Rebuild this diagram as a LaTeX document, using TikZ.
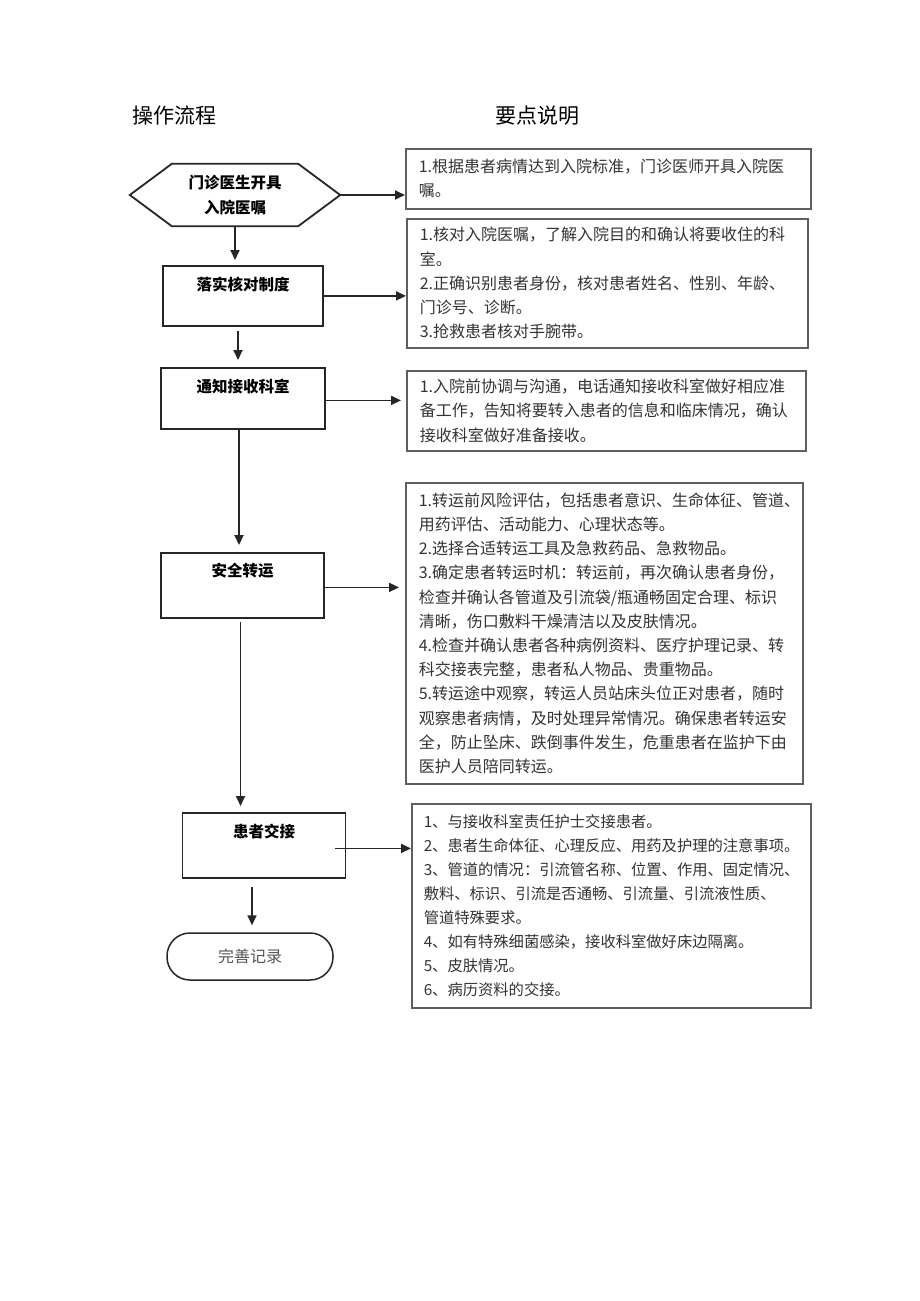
\documentclass[tikz,border=0pt]{standalone}
\usepackage{fontspec}
\setmainfont{Noto Sans CJK SC}
\usepackage{tikz}
\usetikzlibrary{arrows.meta,positioning}
\definecolor{boxdark}{HTML}{262626}
\definecolor{notegray}{HTML}{5E5E5E}
\definecolor{notetext}{HTML}{333333}
\definecolor{endgray}{HTML}{555555}

\begin{document}
\begin{tikzpicture}[x=1pt, y=-1pt,
  title/.style={font=\fontsize{21pt}{25pt}\selectfont,anchor=west,inner sep=0pt},
  stepbox/.style={draw=boxdark,line width=1.8pt,inner sep=0pt,minimum width=163pt,text height=25pt,text depth=36pt,anchor=north,font=\bfseries\fontsize{15.5pt}{18pt}\selectfont},
  note/.style={draw=notegray,line width=1.5pt,anchor=north west,align=left,inner xsep=13pt,inner ysep=0pt,text=notetext,font=\fontsize{16pt}{24.2pt}\selectfont},
  arr/.style={-{Triangle[length=10pt,width=9pt]},line width=1.8pt,boxdark}
]
\fill[white] (0,0) rectangle (920,1301);
\useasboundingbox (0,0) rectangle (920,1301);

\node[title] (t1) at (132,116) {操作流程};
\node[title] (t2) at (495,116) {要点说明};

% flow on the left
\node[inner sep=0pt,minimum width=210pt,minimum height=62pt,align=center,font=\bfseries\fontsize{15.5pt}{25pt}\selectfont] (hex) at (235,195) {门诊医生开具\\入院医嘱};
\draw[boxdark,line width=1.8pt] (hex.west) -- ([xshift=42pt]hex.north west) -- ([xshift=-42pt]hex.north east) -- (hex.east) -- ([xshift=-42pt]hex.south east) -- ([xshift=42pt]hex.south west) -- cycle;
\node[stepbox,minimum width=160pt,text depth=35pt] (b2) at (243,265) {落实核对制度};
\node[stepbox,minimum width=164pt] (b3) at (243,367) {通知接收科室};
\node[stepbox,text height=24pt,text depth=41pt] (b4) at (242.5,552) {安全转运};
\node[stepbox,text depth=40pt] (b5) at (264,812) {患者交接};
\node[draw=boxdark,line width=1.5pt,rounded corners=23pt,minimum width=166pt,minimum height=47pt,inner sep=0pt,text=endgray,font=\fontsize{16pt}{18pt}\selectfont] (end) at (250,956.5) {完善记录};

% notes on the right
\node[note,text width=379pt,minimum height=60pt] (n1) at (405,148) {1.根据患者病情达到入院标准，门诊医师开具入院医\\嘱。};
\node[note,text width=375pt,minimum height=129pt] (n2) at (406,218) {1.核对入院医嘱，了解入院目的和确认将要收住的科\\室。\\2.正确识别患者身份，核对患者姓名、性别、年龄、\\门诊号、诊断。\\3.抢救患者核对手腕带。};
\node[note,text width=373pt,minimum height=80pt] (n3) at (406,370) {1.入院前协调与沟通，电话通知接收科室做好相应准\\备工作，告知将要转入患者的信息和临床情况，确认\\接收科室做好准备接收。};
\node[note,text width=371pt,minimum height=301pt] (n4) at (405,482) {1.转运前风险评估，包括患者意识、生命体征、管道、\\用药评估、活动能力、心理状态等。\\2.选择合适转运工具及急救药品、急救物品。\\3.确定患者转运时机：转运前，再次确认患者身份，\\检查并确认各管道及引流袋/瓶通畅固定合理、标识\\清晰，伤口敷料干燥清洁以及皮肤情况。\\4.检查并确认患者各种病例资料、医疗护理记录、转\\科交接表完整，患者私人物品、贵重物品。\\5.转运途中观察，转运人员站床头位正对患者，随时\\观察患者病情，及时处理异常情况。确保患者转运安\\全，防止坠床、跌倒事件发生，危重患者在监护下由\\医护人员陪同转运。};
\node[note,inner xsep=12pt,text width=375pt,minimum height=204pt,font=\fontsize{15.3pt}{24.1pt}\selectfont] (n5) at (411,803) {1、与接收科室责任护士交接患者。\\2、患者生命体征、心理反应、用药及护理的注意事项。\\3、管道的情况：引流管名称、位置、作用、固定情况、\\敷料、标识、引流是否通畅、引流量、引流液性质、\\管道特殊要求。\\4、如有特殊细菌感染，接收科室做好床边隔离。\\5、皮肤情况。\\6、病历资料的交接。};

\draw[arr,shorten >=5pt] (hex.south) -- (hex.south |- b2.north);
\draw[arr,shorten <=4pt,shorten >=7pt] ([xshift=-5pt]b2.south) -- ([xshift=-5pt]b2.south |- b3.north);
\draw[arr,shorten >=7pt] ([xshift=-4pt]b3.south) -- ([xshift=-4pt]b3.south |- b4.north);
\draw[arr,shorten <=3pt,shorten >=6pt] ([xshift=-2pt]b4.south) -- ([xshift=-2pt]b4.south |- b5.north);
\draw[arr,shorten <=8pt,shorten >=7pt] ([xshift=2pt]end.north |- b5.south) -- ([xshift=2pt]end.north);

\draw[arr] (hex.east) -- (hex.east -| n1.west);
\draw[arr] (b2.east) -- (b2.east -| n2.west);
\draw[arr,shorten >=5pt] ([yshift=-2pt]b3.east) -- ([yshift=-2pt]b3.east -| n3.west);
\draw[arr,shorten >=6pt] ([yshift=-2pt]b4.east) -- ([yshift=-2pt]b4.east -| n4.west);
\draw[arr] ([xshift=-11pt,yshift=-3pt]b5.east) -- ([yshift=-3pt]b5.east -| n5.west);
\end{tikzpicture}
\end{document}
